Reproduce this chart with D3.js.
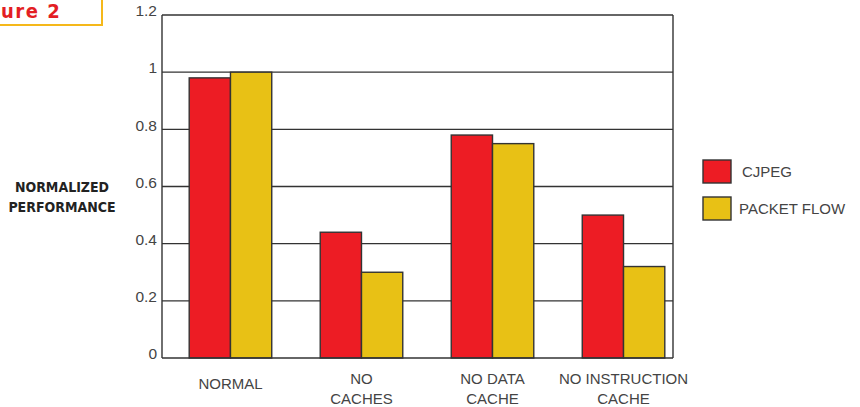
<!DOCTYPE html>
<html>
<head>
<meta charset="utf-8">
<script src="https://cdn.jsdelivr.net/npm/d3@7"></script>
<style>
  html, body { margin: 0; padding: 0; background: #fff; }
  svg { display: block; }
</style>
</head>
<body>
<svg id="chart" width="860" height="407"></svg>
<script>
// Data
const categories = [["NORMAL"], ["NO", "CACHES"], ["NO DATA", "CACHE"], ["NO INSTRUCTION", "CACHE"]];
const seriesNames = ["CJPEG", "PACKET FLOW"];
const cjpeg = [0.98, 0.44, 0.78, 0.50];
const packetFlow = [1.0, 0.30, 0.75, 0.32];
const yTicks = [0, 0.2, 0.4, 0.6, 0.8, 1, 1.2];
const yTickLabels = ["0", "0.2", "0.4", "0.6", "0.8", "1", "1.2"];
const colors = ["#ED1C24", "#E8C115"];

const svg = d3.select("#chart");
const ink = "#333";
const textInk = "#444";
const bodyFont = "'Liberation Sans', Arial, sans-serif";

// Plot frame
const plot = { left: 162, right: 673, top: 15, bottom: 358 };

const y = d3.scaleLinear().domain([0, 1.2]).range([plot.bottom, plot.top]);
const catKeys = categories.map(c => c.join(" "));
const x0 = d3.scaleBand().domain(catKeys).range([163, 691]).paddingInner(0.37).paddingOuter(0.2);
const x1 = d3.scaleBand().domain(seriesNames).range([0, x0.bandwidth()]);

// Figure tag in the corner
svg.append("rect")
  .attr("x", -10).attr("y", -10).attr("width", 112).attr("height", 35)
  .attr("fill", "#fff").attr("stroke", "#F5B81A").attr("stroke-width", 2);
svg.append("text")
  .attr("x", 1).attr("y", 18)
  .attr("font-family", "'DejaVu Sans Condensed', 'DejaVu Sans', sans-serif")
  .attr("font-weight", "bold")
  .attr("font-size", 20)
  .attr("letter-spacing", 1.5)
  .attr("fill", "#E31E24")
  .text("ure 2");

// Gridlines
svg.append("g").selectAll("line")
  .data(yTicks.filter(t => t > 0))
  .join("line")
  .attr("x1", plot.left).attr("x2", plot.right)
  .attr("y1", d => y(d)).attr("y2", d => y(d))
  .attr("stroke", ink).attr("stroke-width", 1.4);

// Bars
const rows = catKeys.map((k, i) => ({ key: k, values: [cjpeg[i], packetFlow[i]] }));
svg.append("g").selectAll("g")
  .data(rows)
  .join("g")
  .attr("transform", d => `translate(${x0(d.key)},0)`)
  .selectAll("rect")
  .data(d => d.values.map((v, j) => ({ name: seriesNames[j], v, j })))
  .join("rect")
  .attr("x", d => x1(d.name))
  .attr("y", d => y(d.v))
  .attr("width", x1.bandwidth())
  .attr("height", d => y(0) - y(d.v))
  .attr("fill", d => colors[d.j])
  .attr("stroke", ink)
  .attr("stroke-width", 1.4);

// Frame: left axis, baseline, right edge
svg.append("line").attr("x1", plot.left).attr("x2", plot.left).attr("y1", plot.top).attr("y2", plot.bottom)
  .attr("stroke", ink).attr("stroke-width", 1.4);
svg.append("line").attr("x1", plot.right).attr("x2", plot.right).attr("y1", plot.top).attr("y2", plot.bottom)
  .attr("stroke", ink).attr("stroke-width", 1.4);
svg.append("line").attr("x1", plot.left).attr("x2", plot.right).attr("y1", plot.bottom).attr("y2", plot.bottom)
  .attr("stroke", ink).attr("stroke-width", 1.4);

// Y axis labels
const yAxis = d3.axisLeft(y).tickValues(yTicks).tickFormat((d, i) => yTickLabels[i]).tickSize(0).tickPadding(5);
const yg = svg.append("g").attr("transform", `translate(${plot.left},0)`).call(yAxis);
yg.select(".domain").remove();
yg.selectAll("text")
  .attr("font-family", bodyFont)
  .attr("font-size", 15.5)
  .attr("fill", textInk)
  .attr("dy", "0.05em");

// Category labels
const cg = svg.append("g");
categories.forEach((lines, i) => {
  const cx = x0(catKeys[i]) + x0.bandwidth() / 2;
  const t = cg.append("text")
    .attr("text-anchor", "middle")
    .attr("font-family", bodyFont)
    .attr("font-size", 15)
    .attr("fill", textInk);
  const startY = lines.length === 1 ? 389 : 384;
  lines.forEach((ln, k) => {
    t.append("tspan").attr("x", cx).attr("y", startY + k * 20).text(ln);
  });
});

// Y axis title
const yt = svg.append("text")
  .attr("text-anchor", "middle")
  .attr("font-family", "'Liberation Sans Narrow', 'DejaVu Sans Condensed', sans-serif")
  .attr("font-weight", "bold")
  .attr("font-size", 14)
  .attr("fill", "#222");
yt.append("tspan").attr("x", 62).attr("y", 192).text("NORMALIZED");
yt.append("tspan").attr("x", 62).attr("y", 212).text("PERFORMANCE");

// Legend
const legend = svg.append("g").attr("transform", "translate(703,160)");
seriesNames.forEach((name, i) => {
  const g = legend.append("g").attr("transform", `translate(0,${i * 37})`);
  g.append("rect").attr("width", 28).attr("height", 23)
    .attr("fill", colors[i]).attr("stroke", ink).attr("stroke-width", 1.4);
  g.append("text").attr("x", i === 0 ? 39 : 36).attr("y", 17)
    .attr("font-family", bodyFont)
    .attr("font-size", 15)
    .attr("fill", textInk)
    .text(name);
});
</script>
</body>
</html>
